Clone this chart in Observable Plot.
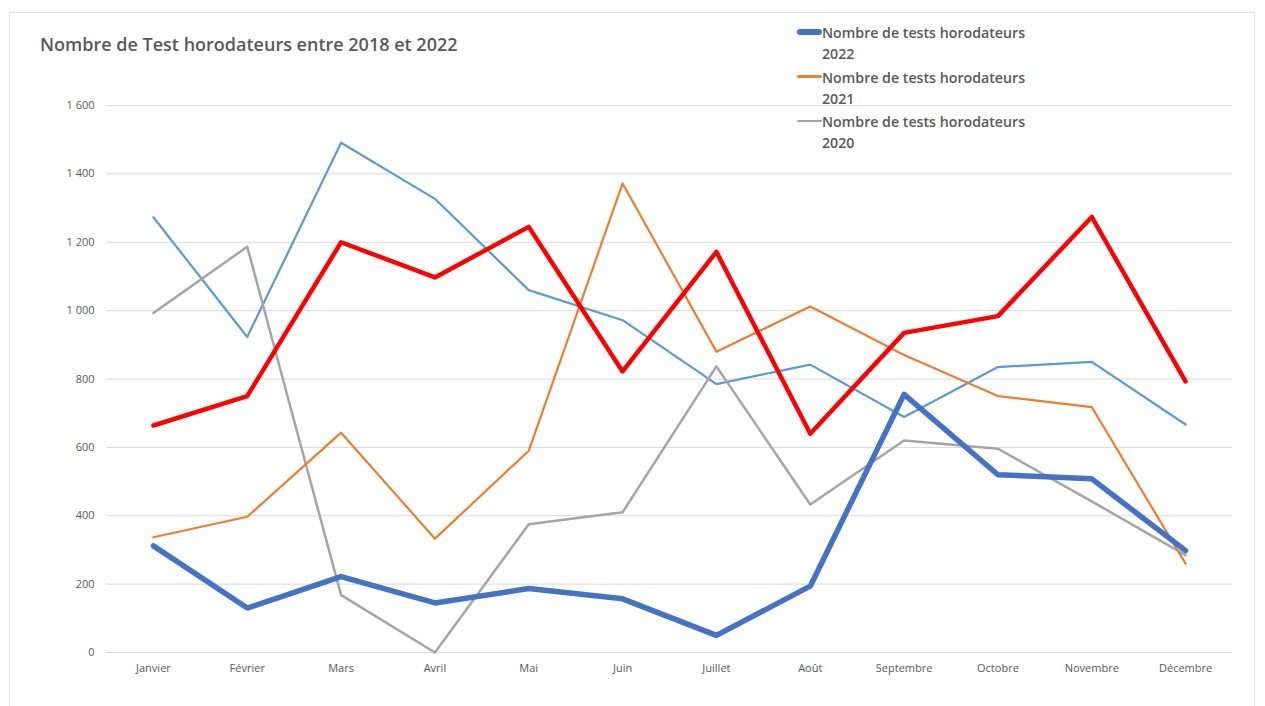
<!DOCTYPE html>
<html>
<head>
<meta charset="utf-8">
<script src="https://cdn.jsdelivr.net/npm/d3@7"></script>
<script src="https://cdn.jsdelivr.net/npm/@observablehq/plot@0.6"></script>
<style>
  html, body { margin: 0; padding: 0; background: #fff; }
  #wrap { position: relative; width: 1265px; height: 706px; overflow: hidden; font-family: "Open Sans", sans-serif; }
  #frame { position: absolute; left: 9px; top: 12px; width: 1246px; height: 720px; border: 1px solid #e3e3e3; box-sizing: border-box; }
  #title { position: absolute; left: 40px; top: 32px; font-size: 18px; font-weight: 600; color: #595959; white-space: nowrap; }
  #chart { position: absolute; left: 0; top: 0; }
  #legend { position: absolute; left: 797px; top: 22px; color: #595959; font-size: 14.2px; font-weight: 600; line-height: 21px; }
  .item { position: relative; padding-left: 25px; height: 44.5px; }
  .swatch { position: absolute; left: 0; top: 10px; width: 25px; border-radius: 3px; }
</style>
</head>
<body>
<div id="wrap">
  <div id="frame"></div>
  <div id="chart"></div>
  <div id="title">Nombre de Test horodateurs entre 2018 et 2022</div>
  <div id="legend"></div>
</div>
<script>
const months = ["Janvier", "Février", "Mars", "Avril", "Mai", "Juin", "Juillet", "Août", "Septembre", "Octobre", "Novembre", "Décembre"];
const values2022 = [312, 130, 222, 145, 187, 157, 50, 194, 755, 520, 508, 298];
const values2021 = [337, 397, 643, 333, 590, 1372, 880, 1012, 870, 750, 718, 260];
const values2020 = [993, 1187, 168, 0, 375, 410, 837, 433, 620, 596, 442, 285];
const values2019 = [664, 750, 1200, 1097, 1245, 822, 1172, 640, 935, 984, 1274, 793];
const values2018 = [1273, 923, 1491, 1327, 1060, 972, 785, 842, 689, 835, 850, 667];
const yTicks = [0, 200, 400, 600, 800, 1000, 1200, 1400, 1600];

const seriesDefs = [
  { key: "2018", values: values2018, color: "#5B9BD5", width: 2.2 },
  { key: "2020", values: values2020, color: "#A5A5A5", width: 2.5 },
  { key: "2021", values: values2021, color: "#ED7D31", width: 2.2 },
  { key: "2019", values: values2019, color: "#FF0000", width: 4.5 },
  { key: "2022", values: values2022, color: "#4472C4", width: 5.5 }
];
const legendDefs = [
  { label: "Nombre de tests horodateurs", year: "2022", color: "#4472C4", width: 5.5 },
  { label: "Nombre de tests horodateurs", year: "2021", color: "#ED7D31", width: 2.5 },
  { label: "Nombre de tests horodateurs", year: "2020", color: "#A5A5A5", width: 2.5 }
];

const fmt = d => String(d).replace(/\B(?=(\d{3})+(?!\d))/g, " ");

const marks = [
  Plot.ruleY(yTicks, { stroke: "#d9d9d9", strokeWidth: 1 }),
  Plot.axisY({ ticks: yTicks, tickSize: 0, tickPadding: 12, tickFormat: fmt, label: null, fontSize: 11, fill: "#595959" }),
  Plot.axisX({ tickSize: 0, tickPadding: 12, label: null, fontSize: 11, fill: "#595959" })
];
for (const s of seriesDefs) {
  const data = months.map((m, i) => ({ month: m, value: s.values[i] }));
  marks.push(Plot.line(data, { x: "month", y: "value", stroke: s.color, strokeWidth: s.width, strokeLinejoin: "round", strokeLinecap: "round" }));
}

const chart = Plot.plot({
  width: 1265,
  height: 706,
  marginTop: 105,
  marginBottom: 54,
  marginLeft: 106,
  marginRight: 33,
  style: { background: "transparent", fontFamily: "'Open Sans', sans-serif", color: "#595959" },
  x: { type: "point", domain: months, padding: 0.5, round: false },
  y: { domain: [0, 1600] },
  marks
});
document.getElementById("chart").appendChild(chart);

const legend = document.getElementById("legend");
for (const l of legendDefs) {
  const item = document.createElement("div");
  item.className = "item";
  const sw = document.createElement("div");
  sw.className = "swatch";
  sw.style.background = l.color;
  sw.style.height = l.width + "px";
  sw.style.marginTop = (-l.width / 2) + "px";
  item.appendChild(sw);
  const t = document.createElement("div");
  t.innerHTML = l.label + "<br>" + l.year;
  item.appendChild(t);
  legend.appendChild(item);
}
</script>
</body>
</html>
